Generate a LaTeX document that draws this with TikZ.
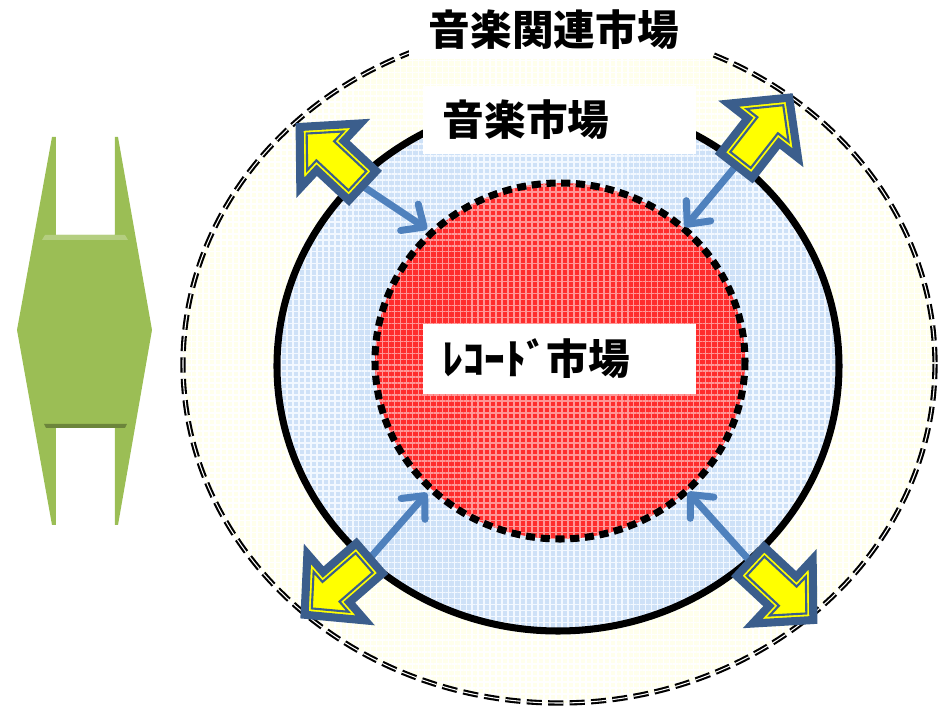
\documentclass[tikz,border=0pt]{standalone}
\usepackage{fontspec}
\newfontfamily\jpfont{Noto Sans CJK JP}
\usetikzlibrary{arrows.meta,patterns.meta}

\definecolor{rimblue}{RGB}{59,94,140}
\definecolor{linkblue}{RGB}{79,129,189}
\definecolor{arrowyellow}{RGB}{255,255,0}
\definecolor{leafgreen}{RGB}{155,190,85}
\definecolor{relatedfill}{RGB}{255,255,236}
\definecolor{skyfill}{RGB}{206,225,247}
\definecolor{skyline}{RGB}{242,248,255}
\definecolor{recordred}{RGB}{255,45,45}
\definecolor{recordpink}{RGB}{255,150,150}

\tikzset{
  labelbox/.style={fill=white, anchor=north west, align=left, inner xsep=0.2cm, inner ysep=0pt,
    font=\jpfont\bfseries\fontsize{11.85pt}{14pt}\selectfont},
  gridfill/.style 2 args={preaction={fill=#1},
    preaction={pattern={Lines[angle=0,distance=1.7pt,line width=0.45pt]}, pattern color=#2},
    preaction={pattern={Lines[angle=90,distance=1.7pt,line width=0.45pt]}, pattern color=#2}},
  relatedring/.style={draw=black, line width=0.6pt, double=white, double distance=0.3pt,
    dash pattern=on 4.3pt off 1.8pt},
  musicring/.style={draw=black, line width=2pt},
  recordring/.style={draw=black, line width=2pt, dash pattern=on 2.6pt off 1.6pt},
  backarrow/.style={draw=linkblue, line width=2pt, line cap=round,
    -{Straight Barb[round,length=5pt,width=9pt]}},
  blockarrow/.pic={
    \filldraw[fill=arrowyellow, draw=rimblue, line width=2.3pt, line join=miter]
      (2,-20) -- (46,-20) -- (46,-44) -- (88,0) -- (46,44) -- (46,20) -- (2,20) -- cycle;
    \draw[rimblue, line width=0.6pt, line join=miter]
      (9,-13) -- (53,-13) -- (53,-26.5) -- (78.4,0) -- (53,26.5) -- (53,13) -- (9,13) -- cycle;
  }
}

\begin{document}
\begin{tikzpicture}[x=0.01cm, y=-0.01cm]
  \useasboundingbox (0,0) rectangle (938,718);

  % left marker
  \fill[leafgreen] (52,137) -- (17,330) -- (52,525) -- (56,525) -- (56,424) -- (115,424)
    -- (115,525) -- (118,525) -- (152,330) -- (118,137) -- (115,137) -- (115,235)
    -- (56,235) -- (56,137) -- cycle;
  \fill[leafgreen!75!white] (45,235) -- (125,235) -- (128,240) -- (42,240) -- cycle;
  \fill[leafgreen!70!black] (44,424) -- (127,424) -- (125,428) -- (46,428) -- cycle;

  % the three markets
  \draw[relatedring, gridfill={relatedfill}{white}] (559,364) ellipse [x radius=376, y radius=339];
  \draw[musicring, gridfill={skyfill}{skyline}] (558,366) ellipse [x radius=281, y radius=265];
  \draw[recordring, gridfill={recordred}{recordpink}] (560,361) ellipse [x radius=185, y radius=178];

  % ends of the links
  \coordinate (tlout) at (364,187);
  \coordinate (tlin) at (427,229);
  \coordinate (trout) at (735,167);
  \coordinate (trin) at (685,227);
  \coordinate (blout) at (371,557);
  \coordinate (blin) at (427,493);
  \coordinate (brout) at (749,560);
  \coordinate (brin) at (688,492);

  \draw[backarrow] (tlout) -- (tlin);
  \draw[backarrow] (trout) -- (trin);
  \draw[backarrow] (blout) -- (blin);
  \draw[backarrow] (brout) -- (brin);

  \pic[rotate=137] at (tlout) {blockarrow};
  \pic[rotate=52] at (trout) {blockarrow};
  \pic[rotate=221] at (blout) {blockarrow};
  \pic[rotate=-43] at (brout) {blockarrow};

  % labels
  \node[labelbox, text width=2.62cm, minimum height=0.58cm] (related) at (408,0) {音楽関連市場};
  \node[labelbox, text width=2.33cm, minimum height=0.68cm] (music) at (422,85) {音楽市場};
  \node[labelbox, text width=2.33cm, minimum height=0.70cm] (record) at (422,323) {ﾚｺｰﾄﾞ市場};
\end{tikzpicture}
\end{document}
